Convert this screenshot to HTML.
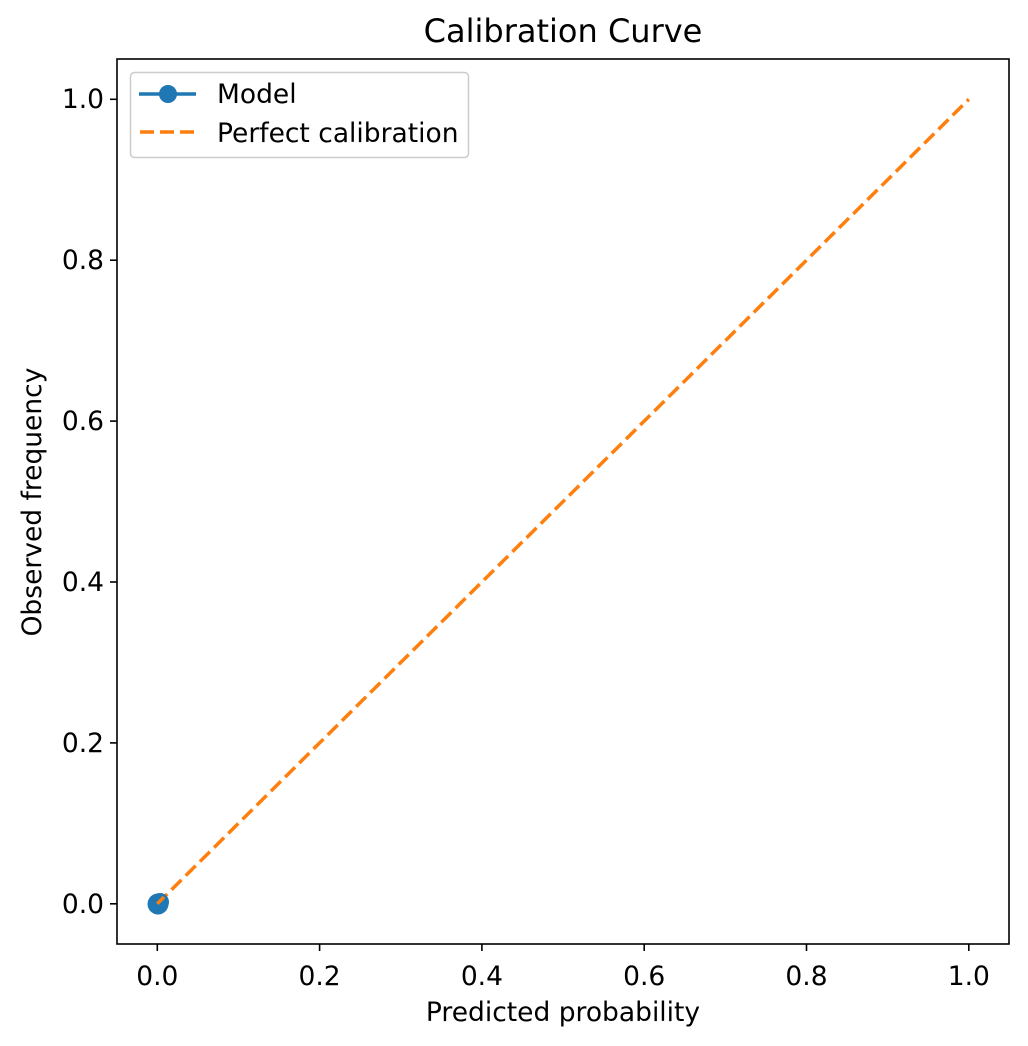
<!DOCTYPE html>
<html><head><style>body{margin:0;background:#fff}svg{display:block}</style></head><body>
<svg width="1028" height="1046" xmlns="http://www.w3.org/2000/svg" font-family="DejaVu Sans, Liberation Sans, sans-serif">
<rect width="1028" height="1046" fill="#fff"/>
<text x="563" y="42" font-size="32" text-anchor="middle">Calibration Curve</text>
<line x1="157.3" y1="903.8" x2="968.8" y2="99.3" stroke="#ff7f0e" stroke-width="3.5" stroke-dasharray="14,6"/>
<circle cx="158" cy="904" r="10.5" fill="#1f77b4"/>
<circle cx="160" cy="902" r="9" fill="#1f77b4"/>
<line x1="157.3" y1="903.8" x2="164" y2="897" stroke="#ff7f0e" stroke-width="3.5"/>
<rect x="117" y="59" width="892" height="885" fill="none" stroke="#000" stroke-width="1.6"/>
<g stroke="#000" stroke-width="1.6">
<line x1="157.3" y1="944" x2="157.3" y2="951"/><line x1="319.6" y1="944" x2="319.6" y2="951"/><line x1="481.9" y1="944" x2="481.9" y2="951"/><line x1="644.2" y1="944" x2="644.2" y2="951"/><line x1="806.5" y1="944" x2="806.5" y2="951"/><line x1="968.8" y1="944" x2="968.8" y2="951"/>
<line x1="110" y1="903.8" x2="117" y2="903.8"/><line x1="110" y1="742.9" x2="117" y2="742.9"/><line x1="110" y1="582" x2="117" y2="582"/><line x1="110" y1="421.1" x2="117" y2="421.1"/><line x1="110" y1="260.2" x2="117" y2="260.2"/><line x1="110" y1="99.3" x2="117" y2="99.3"/>
</g>
<g font-size="26.5" text-anchor="middle">
<text x="157.3" y="985">0.0</text><text x="319.6" y="985">0.2</text><text x="481.9" y="985">0.4</text><text x="644.2" y="985">0.6</text><text x="806.5" y="985">0.8</text><text x="968.8" y="985">1.0</text>
</g>
<g font-size="26.5" text-anchor="end">
<text x="104" y="913">0.0</text><text x="104" y="752">0.2</text><text x="104" y="591">0.4</text><text x="104" y="430">0.6</text><text x="104" y="269">0.8</text><text x="104" y="108">1.0</text>
</g>
<text x="563" y="1021" font-size="26.5" text-anchor="middle">Predicted probability</text>
<text transform="translate(41,502) rotate(-90)" font-size="26.5" text-anchor="middle">Observed frequency</text>
<rect x="130.5" y="72.5" width="338" height="85" rx="4" fill="#fff" fill-opacity="0.8" stroke="#ccc" stroke-width="1.5"/>
<line x1="139" y1="94" x2="196" y2="94" stroke="#1f77b4" stroke-width="3.5"/>
<circle cx="168" cy="94" r="9" fill="#1f77b4"/>
<line x1="140" y1="132" x2="196" y2="132" stroke="#ff7f0e" stroke-width="3.5" stroke-dasharray="14,6"/>
<text x="217" y="103" font-size="26.5">Model</text>
<text x="217" y="142" font-size="26.5">Perfect calibration</text>
</svg>
</body></html>
